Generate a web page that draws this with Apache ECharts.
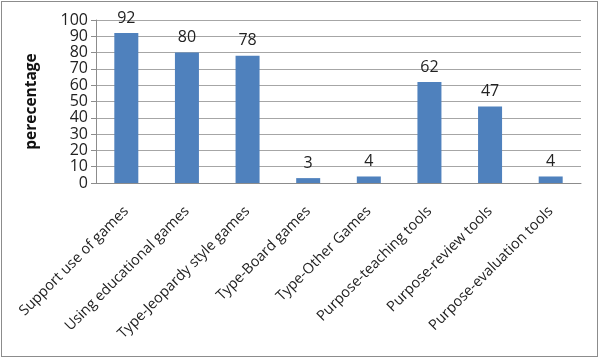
<!DOCTYPE html>
<html><head><meta charset="utf-8">
<script src="https://cdn.jsdelivr.net/npm/echarts@6/dist/echarts.min.js"></script>
<style>html,body{margin:0;padding:0;background:#fff}#c{position:absolute;left:1px;top:1px;width:597px;height:356px;box-sizing:border-box;border:1px solid #8c8c8c}</style>
</head><body><div id="c"></div>
<script>
const categories = ["Support use of games","Using educational games","Type-Jeopardy style games","Type-Board games","Type-Other Games","Purpose-teaching tools","Purpose-review tools","Purpose-evaluation tools"];
const values = [92, 80, 78, 3, 4, 62, 47, 4];
const yTicks = {min: 0, max: 100, interval: 10};
const yName = "perecentage";
const font = "'Open Sans', 'Liberation Sans', sans-serif";
const chart = echarts.init(document.getElementById('c'));
chart.setOption({
  animation: false,
  grid: {left: 94, right: 16, top: 18, bottom: 173},
  xAxis: {
    type: 'category', data: categories,
    axisLine: {lineStyle: {color: '#8c8c8c'}},
    axisTick: {show: false},
    axisLabel: {rotate: 45, interval: 0, fontFamily: font, fontSize: 14.5, color: '#222', margin: 26}
  },
  yAxis: {
    type: 'value', min: yTicks.min, max: yTicks.max, interval: yTicks.interval,
    name: yName, nameLocation: 'middle', nameGap: 56, nameRotate: 90,
    nameTextStyle: {fontFamily: font, fontWeight: 'bold', fontSize: 15.5, color: '#111'},
    axisLine: {show: true, lineStyle: {color: '#8c8c8c'}},
    axisTick: {show: true, length: 5, lineStyle: {color: '#8c8c8c'}},
    axisLabel: {fontFamily: font, fontSize: 16, color: '#222', margin: 8},
    splitLine: {lineStyle: {color: '#a6a6a6'}}
  },
  series: [{
    type: 'bar', data: values, barWidth: 24,
    itemStyle: {color: '#4f81bd'},
    label: {show: true, position: 'top', distance: 7, fontFamily: font, fontSize: 16, color: '#222'}
  }]
});
</script></body></html>
